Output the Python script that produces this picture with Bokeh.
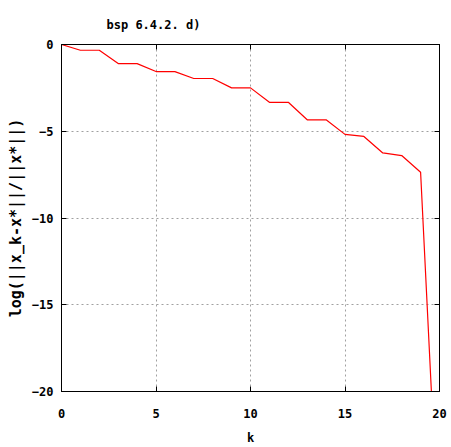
from bokeh.plotting import figure
from bokeh.models import Range1d, LinearAxis, FixedTicker, ColumnDataSource
from bokeh.embed import file_html
from bokeh.resources import INLINE

k_values = list(range(21))
log_err = [0.0, -0.33, -0.33, -1.10, -1.10, -1.56, -1.56, -1.96, -1.96, -2.50, -2.50,
           -3.33, -3.33, -4.34, -4.34, -5.18, -5.30, -6.25, -6.40, -7.36, -29.5]
x_ticks = [0, 5, 10, 15, 20]
y_ticks = [-20, -15, -10, -5, 0]
title_text = "bsp 6.4.2. d)"
x_label = "k"
y_label = "log(||x_k-x*||/||x*||)"

FONT = "DejaVu Sans Mono"

p = figure(width=451, height=447, output_backend="svg", toolbar_location=None,
           x_range=Range1d(0, 20), y_range=Range1d(-20, 0),
           min_border_left=61, min_border_right=12, min_border_top=44, min_border_bottom=53,
           background_fill_color="white", border_fill_color="white")

p.title.text = title_text
p.title.text_font = FONT
p.title.text_font_size = "12px"
p.title.text_font_style = "bold"
p.title.align = "left"
p.title.vertical_align = "top"
p.title.offset = 45
p.title.standoff = 22
p.title.text_color = "black"

p.outline_line_color = "black"
p.outline_line_width = 1

src = ColumnDataSource(dict(k=k_values, v=log_err))
p.line("k", "v", source=src, line_color="#ff0000", line_width=1.2)

for ax in (p.xaxis[0], p.yaxis[0]):
    ax.axis_line_color = "black"
    ax.major_tick_line_color = "black"
    ax.major_tick_in = 5
    ax.major_tick_out = 0
    ax.minor_tick_line_color = None
    ax.major_label_text_font = FONT
    ax.major_label_text_font_size = "12px"
    ax.major_label_text_font_style = "bold"
    ax.major_label_text_color = "black"
    ax.axis_label_text_font = FONT
    ax.axis_label_text_font_style = "bold"
    ax.axis_label_text_color = "black"

p.xaxis[0].ticker = FixedTicker(ticks=x_ticks)
p.yaxis[0].ticker = FixedTicker(ticks=y_ticks)
p.xaxis[0].axis_label = x_label
p.xaxis[0].axis_label_text_font_size = "12px"
p.xaxis[0].major_label_standoff = 17
p.xaxis[0].axis_label_standoff = 10
p.yaxis[0].axis_label = y_label
p.yaxis[0].axis_label_text_font_size = "15px"
p.yaxis[0].major_label_standoff = 8
p.yaxis[0].axis_label_standoff = 4

for loc, ticks in (("above", x_ticks), ("right", y_ticks)):
    ax = LinearAxis(ticker=FixedTicker(ticks=ticks))
    ax.axis_line_color = "black"
    ax.major_tick_line_color = "black"
    ax.major_tick_in = 5
    ax.major_tick_out = 0
    ax.minor_tick_line_color = None
    ax.major_label_text_font_size = "0px"
    ax.major_label_text_color = None
    ax.major_label_standoff = 0
    p.add_layout(ax, loc)

p.xgrid.ticker = FixedTicker(ticks=x_ticks)
p.ygrid.ticker = FixedTicker(ticks=y_ticks)
p.grid.grid_line_color = "#a0a0a0"
p.grid.grid_line_dash = "2 3"
p.grid.grid_line_width = 1

open("out.html", "w").write(file_html(p, INLINE))
